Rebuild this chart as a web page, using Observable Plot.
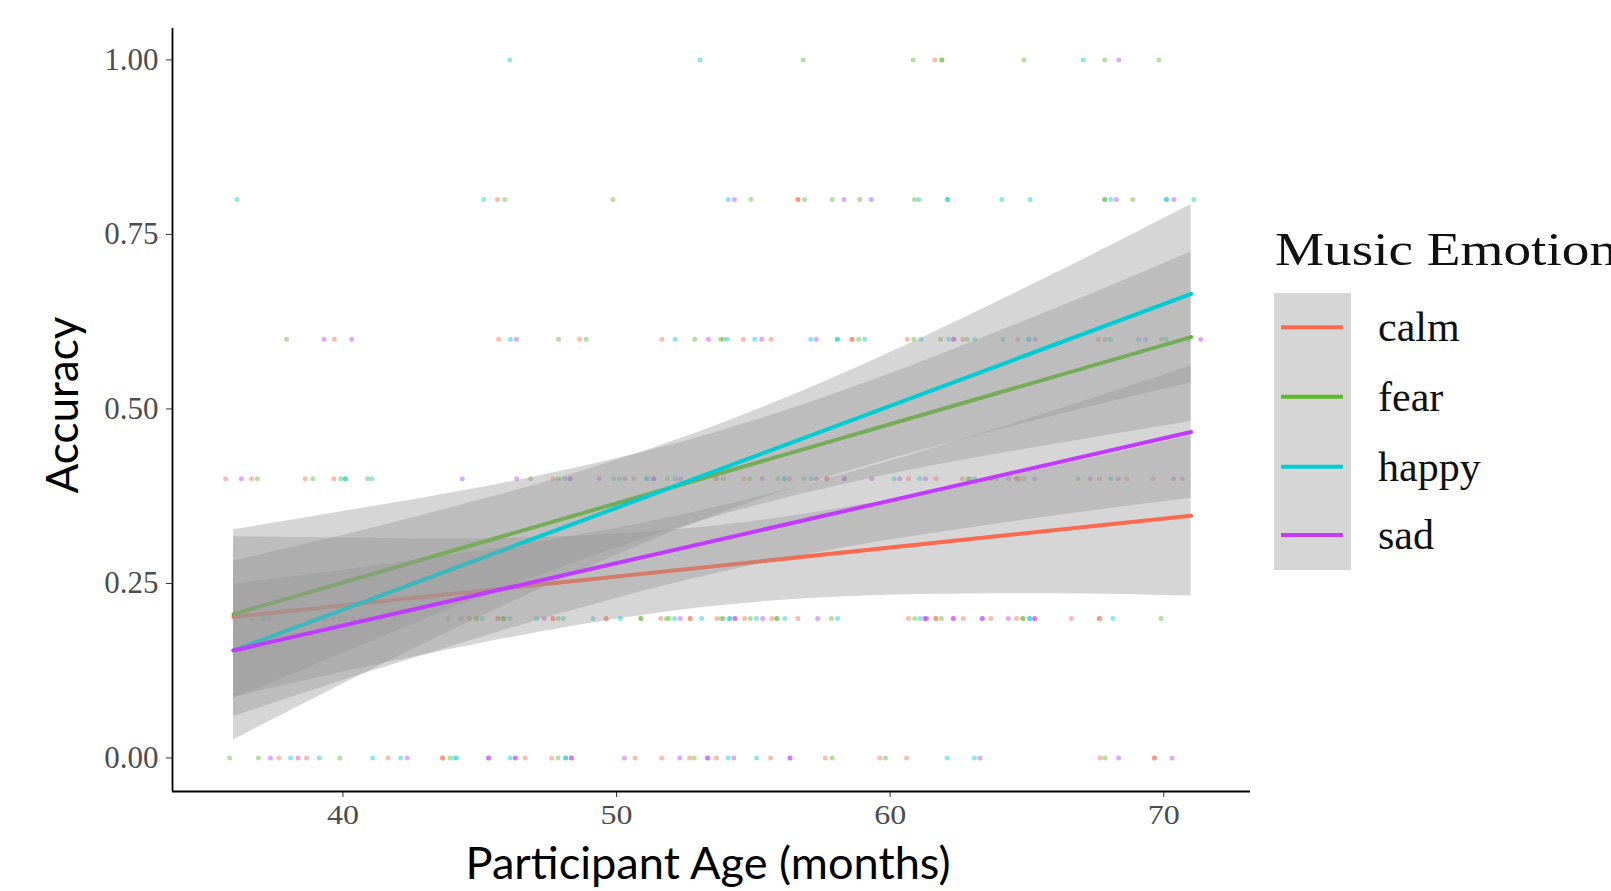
<!DOCTYPE html>
<html><head><meta charset="utf-8">
<script src="https://cdn.jsdelivr.net/npm/d3@7"></script>
<script src="https://cdn.jsdelivr.net/npm/@observablehq/plot@0.6"></script>
<style>body{margin:0;background:#fff;} #chart{position:relative;width:1611px;height:891px;overflow:hidden}</style>
</head><body><div id="chart"></div>
<script>
// ---- categories / scales ----
const emotions = ["calm", "fear", "happy", "sad"];
const lineColors = ["#FA6A4E", "#5DB92C", "#00CCD3", "#C13BFF"];
const accuracyTicks = [0, 0.25, 0.5, 0.75, 1];
const ageTicks = [40, 50, 60, 70];
const xDomain = [33.77, 73.17];
const yDomain = [-0.048, 1.045];

// ---- observations: [accuracy, ages(months)] ----
const calmPoints = [
  [1.0, [61.63]],
  [0.8, [45.65, 56.63, 56.63]],
  [0.6, [39.69, 45.69, 48.65, 51.66, 54.63, 55.65, 58.61, 58.61, 60.63, 62.66, 64.66, 67.61]],
  [0.4, [35.71, 36.66, 38.62, 39.67, 47.67, 50.63, 53.60, 53.67, 54.66, 57.69, 57.69, 60.67, 61.68, 62.64, 63.68, 64.62, 64.62, 64.70, 67.65, 68.65, 69.60, 70.68]],
  [0.2, [36.65, 39.67, 40.66, 44.62, 44.62, 45.66, 45.66, 47.67, 47.67, 49.62, 49.62, 51.62, 52.69, 52.69, 53.67, 54.68, 55.68, 56.63, 60.67, 61.67, 61.67, 62.67, 63.68, 64.62, 66.63, 67.65, 67.65]],
  [0.0, [37.66, 38.67, 41.65, 43.64, 43.64, 46.66, 47.63, 50.68, 51.65, 52.67, 53.65, 55.63, 57.63, 59.62, 60.60, 67.67, 69.66, 69.66]]
];
const fearPoints = [
  [1.0, [56.82, 60.84, 61.89, 61.89, 64.89, 67.84, 69.82]],
  [0.8, [45.92, 49.87, 54.91, 56.87, 57.88, 58.89, 60.89, 67.84, 67.84, 68.87]],
  [0.6, [37.94, 47.88, 48.89, 52.86, 53.80, 53.90, 58.85, 60.87, 61.84, 62.82, 67.86, 69.91, 70.88]],
  [0.4, [36.87, 38.90, 39.92, 40.90, 46.86, 47.87, 49.89, 51.86, 52.83, 53.13, 53.91, 54.88, 55.90, 56.85, 62.84, 62.91, 63.89, 64.89, 66.86]],
  [0.2, [38.86, 39.88, 40.97, 41.89, 43.84, 44.88, 44.88, 45.85, 45.85, 45.91, 47.87, 50.89, 50.89, 51.82, 51.92, 53.83, 53.90, 54.89, 55.86, 55.86, 57.85, 60.90, 61.87, 64.85, 64.85, 69.90]],
  [0.0, [35.86, 36.91, 39.88, 43.91, 47.86, 52.84, 57.88, 59.83, 67.85]]
];
const happyPoints = [
  [1.0, [46.10, 53.05, 67.06]],
  [0.8, [36.13, 45.14, 54.08, 61.05, 62.10, 62.10, 64.08, 65.12, 68.06, 70.10, 70.10, 71.10]],
  [0.6, [46.12, 52.14, 54.05, 55.05, 57.10, 58.07, 58.07, 59.07, 61.13, 62.13, 63.09, 64.12, 65.07, 65.07, 68.05, 69.08, 70.09]],
  [0.4, [40.09, 40.09, 41.06, 48.11, 50.11, 51.11, 51.11, 52.15, 56.14, 56.14, 57.12, 60.14, 61.08, 63.09, 68.06]],
  [0.2, [37.10, 37.10, 39.14, 40.09, 45.09, 46.11, 47.08, 48.06, 49.14, 50.14, 52.12, 53.11, 54.13, 54.13, 55.11, 56.15, 58.08, 61.09, 65.10, 65.10, 68.14]],
  [0.0, [38.09, 39.14, 41.09, 42.11, 44.08, 44.17, 46.11, 48.14, 48.14, 54.08, 55.12, 62.08, 63.08]]
];
const sadPoints = [
  [1.0, [68.36]],
  [0.8, [54.31, 58.31, 59.31, 68.27, 70.37]],
  [0.6, [39.31, 40.32, 46.34, 53.36, 55.31, 57.30, 62.32, 62.32, 65.30, 69.34, 71.35]],
  [0.4, [36.29, 44.36, 46.35, 48.30, 48.30, 49.37, 50.31, 51.36, 51.36, 52.34, 55.32, 56.33, 57.31, 58.33, 58.33, 59.33, 60.35, 61.29, 64.33, 65.29, 67.31, 68.34, 70.36]],
  [0.2, [37.30, 39.33, 40.35, 41.36, 44.32, 47.36, 52.33, 54.33, 54.33, 55.34, 57.35, 61.28, 61.28, 61.35, 62.31, 62.31, 63.37, 63.37, 64.32, 65.28, 65.28]],
  [0.0, [37.35, 38.36, 42.35, 45.32, 45.32, 46.30, 46.30, 48.35, 48.35, 50.29, 52.31, 53.33, 53.33, 54.29, 56.34, 56.34, 63.28, 68.35, 70.31]]
];

// ---- fitted lines (at the two ends of the age range) ----
const fitAges = [36, 71];
const calmFit = [0.202, 0.347];
const fearFit = [0.206, 0.603];
const happyFit = [0.154, 0.665];
const sadFit = [0.154, 0.467];

// ---- confidence bands ----
const bandAges = [36, 40, 44, 48, 53.5, 59, 63, 67, 71];
const calmLo = [0.087, 0.123, 0.156, 0.186, 0.217, 0.232, 0.235, 0.235, 0.232];
const calmHi = [0.317, 0.315, 0.314, 0.317, 0.332, 0.363, 0.393, 0.426, 0.462];
const fearLo = [0.085, 0.150, 0.214, 0.273, 0.344, 0.398, 0.429, 0.456, 0.482];
const fearHi = [0.327, 0.353, 0.380, 0.411, 0.465, 0.536, 0.596, 0.659, 0.725];
const happyLo = [0.026, 0.106, 0.183, 0.256, 0.346, 0.417, 0.460, 0.500, 0.537];
const happyHi = [0.282, 0.319, 0.359, 0.402, 0.474, 0.563, 0.636, 0.713, 0.793];
const sadLo = [0.059, 0.111, 0.160, 0.207, 0.263, 0.306, 0.330, 0.352, 0.372];
const sadHi = [0.249, 0.269, 0.291, 0.315, 0.358, 0.414, 0.461, 0.510, 0.562];

// ---- build tables ----
const pointSets = {calm: calmPoints, fear: fearPoints, happy: happyPoints, sad: sadPoints};
const fitSets = {calm: calmFit, fear: fearFit, happy: happyFit, sad: sadFit};
const bandSets = {calm: [calmLo, calmHi], fear: [fearLo, fearHi], happy: [happyLo, happyHi], sad: [sadLo, sadHi]};

const points = emotions.flatMap(e => pointSets[e].flatMap(([acc, ages]) => ages.map(age => ({emotion: e, acc, age}))));
const fitRows = e => fitAges.map((a, i) => ({emotion: e, age: a, acc: fitSets[e][i]}));
const bandRows = e => bandAges.map((a, i) => ({emotion: e, age: a, lo: bandSets[e][0][i], hi: bandSets[e][1][i]}));
const colorOf = e => lineColors[emotions.indexOf(e)];

const groupMarks = emotions.flatMap(e => [
  Plot.areaY(bandRows(e), {x: "age", y1: "lo", y2: "hi", fill: "#999999", fillOpacity: 0.4, curve: "natural"}),
  Plot.line(fitRows(e), {x: "age", y: "acc", stroke: colorOf(e), strokeWidth: 4})
]);

const chart = Plot.plot({
  width: 1611,
  height: 891,
  marginLeft: 172,
  marginRight: 361,
  marginTop: 28,
  marginBottom: 100,
  style: {fontFamily: "Liberation Serif", background: "#fff"},
  x: {domain: xDomain},
  y: {domain: yDomain},
  color: {domain: emotions, range: lineColors},
  marks: [
    Plot.dot(points, {x: "age", y: "acc", fill: "emotion", r: 2.5, fillOpacity: 0.45}),
    ...groupMarks,
    Plot.axisY(accuracyTicks, {tickFormat: d3.format(".2f"), tickSize: 6, tickPadding: 8, fontSize: 31, label: null}),
    Plot.axisX(ageTicks, {tickFormat: d3.format("d"), tickSize: 6, tickPadding: 7, fontSize: 27, label: null}),
    Plot.ruleX([xDomain[0]], {stroke: "#000", strokeWidth: 1.8}),
    Plot.ruleY([yDomain[0]], {stroke: "#000", strokeWidth: 1.8})
  ]
});
document.getElementById("chart").appendChild(chart);

const svg = d3.select(chart);
svg.selectAll('g[aria-label="y-axis tick label"] text, g[aria-label="x-axis tick label"] text').attr("fill", "#4d4d4d");
svg.selectAll('g[aria-label="y-axis tick"] path, g[aria-label="x-axis tick"] path').attr("stroke", "#333");
svg.selectAll('g[aria-label="x-axis tick label"] text').attr("textLength", 32).attr("lengthAdjust", "spacingAndGlyphs");

// axis titles
svg.append("text").text("Accuracy")
  .attr("transform", "translate(78,405) rotate(-90)")
  .attr("text-anchor", "middle").attr("font-family", "Lato").attr("font-size", 44)
  .attr("textLength", 177).attr("lengthAdjust", "spacingAndGlyphs").attr("fill", "#000");
svg.append("text").text("Participant Age (months)")
  .attr("x", 708).attr("y", 879)
  .attr("text-anchor", "middle").attr("font-family", "Lato").attr("font-size", 44)
  .attr("textLength", 485).attr("lengthAdjust", "spacingAndGlyphs").attr("fill", "#000");

// legend
const lg = svg.append("g").attr("font-family", "Liberation Serif").attr("text-anchor", "start");
lg.append("text").text("Music Emotion").attr("x", 1275).attr("y", 265).attr("text-anchor", "start")
  .attr("font-size", 46).attr("textLength", 342).attr("lengthAdjust", "spacingAndGlyphs").attr("fill", "#111");
lg.append("rect").attr("x", 1274).attr("y", 293).attr("width", 77).attr("height", 277).attr("fill", "#d6d6d6");
const keyY = [327.3, 396.7, 466.7, 535];
emotions.forEach((e, i) => {
  lg.append("line").attr("x1", 1281).attr("x2", 1343).attr("y1", keyY[i]).attr("y2", keyY[i])
    .attr("stroke", colorOf(e)).attr("stroke-width", 4);
  lg.append("text").text(e).attr("x", 1378).attr("y", keyY[i] + 14).attr("text-anchor", "start")
    .attr("font-size", 42).attr("fill", "#111");
});
</script></body></html>
